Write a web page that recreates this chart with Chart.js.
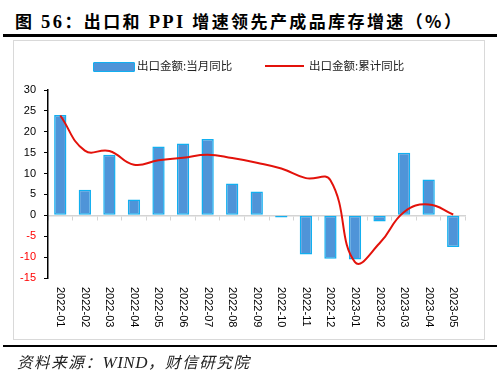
<!DOCTYPE html>
<html><head><meta charset="utf-8">
<script src="https://cdn.jsdelivr.net/npm/chart.js@4/dist/chart.umd.min.js"></script>
<style>
html,body{margin:0;padding:0;background:#fff;}
body{width:500px;height:374px;position:relative;overflow:hidden;font-family:"Liberation Sans","Noto Sans CJK SC",sans-serif;}
#title{position:absolute;left:15px;top:8px;font-size:17px;font-weight:bold;letter-spacing:2.4px;white-space:nowrap;color:#000;font-family:"Liberation Serif","Noto Sans CJK SC",serif;}
#title .cjk{font-family:"Noto Sans CJK SC",sans-serif;}
#title .lat{font-size:18.5px;}
.rule{position:absolute;left:3px;width:494px;height:2.5px;background:#000;}
#frame{position:absolute;left:13px;top:40px;width:472px;height:300px;border:1.5px solid #d9d9d9;box-sizing:border-box;}
#c{position:absolute;left:0;top:0;}
.leg{position:absolute;font-family:"Noto Sans CJK SC",sans-serif;font-size:11.5px;color:#222;white-space:nowrap;}
#src{position:absolute;left:17px;top:350px;font-size:15.5px;letter-spacing:1.6px;font-style:italic;white-space:nowrap;color:#222;font-family:"Liberation Serif","Noto Sans CJK SC",serif;}
#src .lat{font-size:17px;letter-spacing:0.5px;}
</style></head>
<body>
<div id="title"><span class="cjk">图</span> <span class="lat">56</span><span class="cjk">：出口和</span> <span class="lat">PPI</span> <span class="cjk">增速领先产成品库存增速（%）</span></div>
<div class="rule" style="top:34px"></div>
<div id="frame"></div>
<canvas id="c" width="500" height="374"></canvas>
<div id="lb1" style="position:absolute;left:93px;top:62px;width:40px;height:8px;border-radius:1px;"></div>
<div class="leg" style="left:137px;top:57px">出口金额:当月同比</div>
<div id="lb2" style="position:absolute;left:265px;top:64.5px;width:39px;height:2.5px;"></div>
<div class="leg" style="left:309px;top:57px">出口金额:累计同比</div>
<div class="rule" style="top:344.5px"></div>
<div id="src">资料来源：<span class="lat">WIND</span>，财信研究院</div>
<script>
const categories = ["2022-01","2022-02","2022-03","2022-04","2022-05","2022-06","2022-07","2022-08","2022-09","2022-10","2022-11","2022-12","2023-01","2023-02","2023-03","2023-04","2023-05"];
const monthlyYoY = [24.0, 6.1, 14.5, 3.8, 16.5, 17.2, 18.3, 7.6, 5.7, -0.5, -9.4, -10.4, -10.6, -1.5, 15.0, 8.6, -7.6];
const cumulativeYoY = [23.9, 15.5, 15.4, 12.1, 13.2, 13.8, 14.5, 13.7, 12.6, 11.2, 8.9, 8.4, -11.2, -6.7, 0.8, 2.6, 0.2];
const yTicks = [-15, 30, 5];
const seriesNames = ["出口金额:当月同比", "出口金额:累计同比"];
const barFill = "#4f94d8", barEdge = "#12aff0", lineColor = "#e3120b";

document.getElementById('lb1').style.background = barFill;
document.getElementById('lb1').style.border = "1px solid " + barEdge;
document.getElementById('lb2').style.background = lineColor;

const xLabelPlugin = {
  id: 'xLabels',
  afterDraw(chart) {
    const ctx = chart.ctx, xs = chart.scales.x, area = chart.chartArea;
    ctx.save();
    ctx.font = '11px "Liberation Sans", Arial, sans-serif';
    ctx.fillStyle = '#000';
    ctx.textAlign = 'left';
    ctx.textBaseline = 'middle';
    categories.forEach((lab, i) => {
      const x = xs.getPixelForValue(i);
      ctx.save();
      ctx.translate(x, area.bottom + 9);
      ctx.rotate(Math.PI / 2);
      ctx.fillText(lab, 0, 0);
      ctx.restore();
    });
    ctx.restore();
  }
};

new Chart(document.getElementById('c'), {
  type: 'bar',
  data: {
    labels: categories,
    datasets: [
      { type: 'line', label: seriesNames[1], data: cumulativeYoY, borderColor: lineColor, borderWidth: 2, pointRadius: 0, tension: 0.45, fill: false, order: 0 },
      { type: 'bar', label: seriesNames[0], data: monthlyYoY, backgroundColor: barFill, borderColor: barEdge, borderWidth: 1.5, borderSkipped: false, barPercentage: 0.5, categoryPercentage: 1, order: 1 }
    ]
  },
  options: {
    responsive: false,
    animation: false,
    events: [],
    layout: { padding: { left: 0, top: 90, right: 34.5, bottom: 96 } },
    plugins: { legend: { display: false }, tooltip: { enabled: false } },
    scales: {
      x: {
        position: { y: 0 },
        offset: true,
        grid: { display: true, drawOnChartArea: false, drawTicks: true, tickLength: 4, color: '#d4d4d4', offset: true },
        border: { display: true, color: '#d4d4d4', width: 1.5 },
        ticks: { display: false }
      },
      y: {
        min: yTicks[0], max: yTicks[1],
        afterFit(s) { s.width = 48; },
        grid: { display: true, drawOnChartArea: false, drawTicks: true, tickLength: 4, color: '#000' },
        border: { display: true, color: '#000', width: 1.5 },
        ticks: {
          stepSize: yTicks[2], padding: 8,
          font: { family: '"Liberation Sans", Arial, sans-serif', size: 11 },
          color: (c) => c.tick.value < 0 ? '#ff0000' : '#000'
        }
      }
    }
  },
  plugins: [xLabelPlugin]
});
</script>
</body></html>
